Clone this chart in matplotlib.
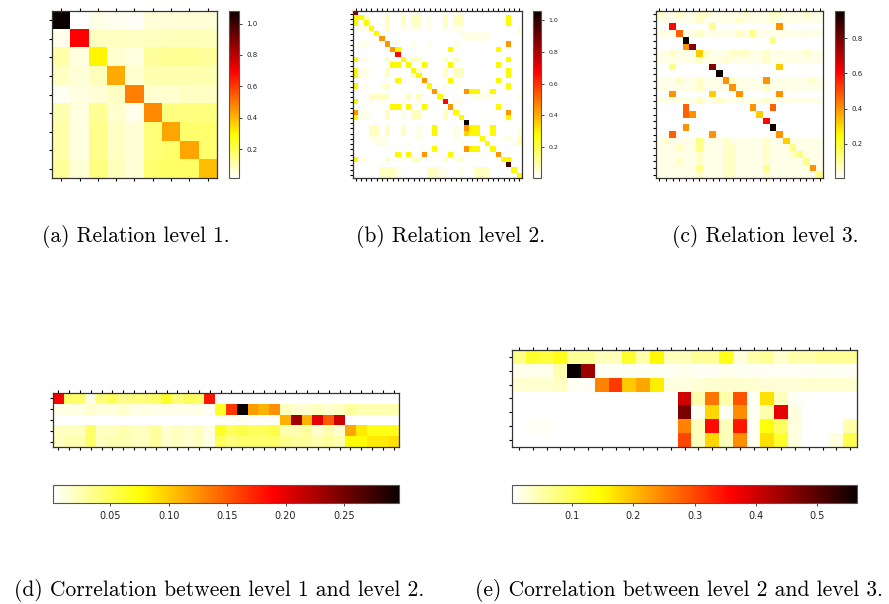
# 关系矩阵与层间相关性热力图（五个子图）
import numpy as np
import matplotlib
matplotlib.use("Agg")
import matplotlib.pyplot as plt

W, H = 889, 604

# (a) 第一层关系矩阵 9x9
rel1 = np.array([
    [1.08, 0.016, 0.045, 0.035, 0.025, 0.06, 0.06, 0.06, 0.06],
    [0.04, 0.69, 0.085, 0.085, 0.08, 0.085, 0.09, 0.09, 0.09],
    [0.11, 0.05, 0.30, 0.07, 0.05, 0.12, 0.13, 0.13, 0.12],
    [0.08, 0.06, 0.09, 0.42, 0.07, 0.10, 0.10, 0.10, 0.10],
    [0.03, 0.05, 0.06, 0.08, 0.49, 0.07, 0.07, 0.08, 0.08],
    [0.10, 0.05, 0.13, 0.07, 0.04, 0.47, 0.15, 0.15, 0.15],
    [0.11, 0.05, 0.14, 0.08, 0.06, 0.16, 0.43, 0.17, 0.17],
    [0.11, 0.05, 0.14, 0.08, 0.06, 0.16, 0.17, 0.43, 0.17],
    [0.12, 0.06, 0.15, 0.09, 0.06, 0.17, 0.18, 0.18, 0.39],
])

# (b) 第二层关系矩阵 32x32，每个字符代表一个颜色等级
rel2_levels = {".": 0.003, "q": 0.03, "p": 0.07, "y": 0.28, "g": 0.34,
               "o": 0.44, "r": 0.66, "d": 0.85, "x": 0.97, "k": 1.06}
rel2_rows = [
    "d.....q. .q.qq... .q.qq... ........",
    "yyp...p. .p.pp.q. .p.pp... .....y..",
    "yqy...p. .p.pp.q. .p.pp... .....y..",
    ".qqy..p. .q.qq.q. .q.qq... .......q",
    "....y... ........ ....qqqq qq.....q",
    ".....o.. ........ .....qqq qq......",
    ".qq...o. ...q..q. ...q.... .....o..",
    ".......o y....... ..y..... ...y....",
    "........ r....... ........ ........",
    "yqq...p. .yqpp... .p.p.... .....y..",
    ".......y y.y..y.. ..y..... ...y....",
    "yqq...p. ...yp... .p.pp... .....y..",
    "yqq...p. ...py... .p.pp... .....y..",
    "........ y....o.. ..y..... ...y....",
    "y.q..qp. ......y. .q.q.... .....y..",
    "........ .......o .....oyy ..y.....",
    "...pppp. ..p.p... y.....qq qqq....q",
    "y..q.q.. .q..q... .r.qq... ........",
    ".......y y.y..y.. ..o..... ...y....",
    "oqq...p. .q.pp... .p.y.... .....o..",
    "yqq...p. .q.pp... .p..y... .....y..",
    "........ ........ .....k.. ........",
    "...pp.p. .p..q..y ...q.oyy ..y....q",
    "...pp.p. .p..q..y ...q.gyy ..y....q",
    "...qqq.. ....q... ...q.... y...qq.p",
    "....qqq. ..q..... ....q... .y....qp",
    "........ .......y .....oyy ..y.....",
    "........ y.y..o.. ..y..... ...o....",
    "yqq...p. .q.pp... .p.qp... ....yy..",
    "........ ........ ........ .....x..",
    ".....ppp q.....pp qq..q..p pp....y.",
    ".....ppp q.....pp qq..q..p pp.....y",
]

# (c) 第三层关系矩阵 25x25
rel3_levels = {".": 0.007, "q": 0.03, "p": 0.06, "l": 0.12, "y": 0.24, "g": 0.32,
               "o": 0.40, "n": 0.47, "r": 0.60, "d": 0.78, "k": 0.953}
rel3_rows = [
    "pqqpq qppqq qqqpq qqppq qqpqq",
    "qqqqq qpqqq qqpqq qqpqq qqqqq",
    "..r.. ...l. ..... ...o. .....",
    "qqqnq qpqqq qqpql qqqqq qqqqq",
    "....k ..... ..... ..l.. .....",
    "....o d.... ..... ..... .....",
    "qqpqq qgpqq qpppq qpqqq qqpqq",
    "qqqqq qpqqq pqqqq qpqqq qqqqq",
    "..l.. ...d. ..... ...g. .....",
    "..... ....k ..... ..... .....",
    "qqqpq qpqqq opqqq qoqqq qqqpq",
    "qqqqq qpqqq qoqqq qpqqq qqqqq",
    "..o.. ...g. ..o.. ...o. .....",
    "qqqqq qpqqp qqqqq qpqqq qqqqq",
    "....n ..... ....o ..n.. .....",
    "....n o.... ..... g.... .....",
    "..... ..... ..... .r... .....",
    "....o ..... ..... ..k.. .....",
    "..n.. ...o. ..... ...o. .....",
    "qpqqq qlqqq pqqqq qpqqg qqqqq",
    "qqqpq qlqqq ppqqq qpqqq lqqqq",
    "qqqqq qpqqq ppqqq qpqqq plqqq",
    "qqqpq qpqqq ppqqq qpqqq qqlqq",
    "qqqqq qlqqq ppqqq qlqqq qqqoq",
    "qqqqq qpqqq ppqqq qpqqq qqqql",
]

# (d) 第一层与第二层的相关性 5x32
corr12 = np.array([
    [0.19, 0.045, 0.045, 0.008, 0.04, 0.05, 0.035, 0.04, 0.04, 0.045, 0.065, 0.04, 0.05, 0.045, 0.18, 0.001,
     0.001, 0.001, 0.001, 0.001, 0.001, 0.001, 0.001, 0.001, 0.001, 0.001, 0.001, 0.001, 0.001, 0.001, 0.001, 0.001],
    [0.008, 0.01, 0.01, 0.015, 0.012, 0.012, 0.015, 0.01, 0.01, 0.008, 0.008, 0.008, 0.008, 0.008, 0.005, 0.065,
     0.165, 0.297, 0.12, 0.11, 0.125, 0.02, 0.015, 0.015, 0.02, 0.015, 0.02, 0.03, 0.025, 0.025, 0.025, 0.025],
    [0.002, 0.002, 0.002, 0.002, 0.002, 0.002, 0.002, 0.002, 0.002, 0.002, 0.002, 0.002, 0.002, 0.002, 0.002, 0.004,
     0.004, 0.006, 0.004, 0.004, 0.004, 0.11, 0.23, 0.11, 0.20, 0.15, 0.21, 0.002, 0.002, 0.002, 0.002, 0.002],
    [0.02, 0.02, 0.02, 0.045, 0.02, 0.02, 0.025, 0.02, 0.02, 0.03, 0.015, 0.02, 0.015, 0.02, 0.01, 0.065,
     0.05, 0.055, 0.05, 0.05, 0.055, 0.025, 0.025, 0.03, 0.015, 0.025, 0.015, 0.115, 0.085, 0.07, 0.07, 0.07],
    [0.02, 0.025, 0.025, 0.045, 0.02, 0.025, 0.025, 0.02, 0.02, 0.03, 0.015, 0.02, 0.015, 0.02, 0.01, 0.05,
     0.04, 0.045, 0.045, 0.045, 0.045, 0.035, 0.03, 0.03, 0.025, 0.03, 0.025, 0.075, 0.075, 0.085, 0.085, 0.09],
])

# (e) 第二层与第三层的相关性 7x25
corr23 = np.array([
    [0.07, 0.12, 0.11, 0.13, 0.06, 0.06, 0.04, 0.04, 0.12, 0.05, 0.15, 0.04, 0.04, 0.06, 0.06, 0.13,
     0.02, 0.05, 0.06, 0.03, 0.05, 0.05, 0.06, 0.06, 0.06],
    [0.015, 0.015, 0.015, 0.05, 0.565, 0.44, 0.01, 0.01, 0.01, 0.01, 0.01, 0.01, 0.015, 0.01, 0.01, 0.015,
     0.01, 0.01, 0.01, 0.01, 0.01, 0.01, 0.01, 0.01, 0.01],
    [0.03, 0.03, 0.03, 0.035, 0.01, 0.01, 0.25, 0.31, 0.19, 0.22, 0.16, 0.02, 0.02, 0.025, 0.03, 0.03,
     0.03, 0.03, 0.025, 0.025, 0.025, 0.03, 0.03, 0.03, 0.03],
    [0.002, 0.002, 0.002, 0.002, 0.002, 0.002, 0.002, 0.002, 0.002, 0.002, 0.002, 0.002, 0.40, 0.05, 0.26, 0.05,
     0.29, 0.01, 0.17, 0.04, 0.01, 0.002, 0.002, 0.002, 0.002],
    [0.002, 0.002, 0.002, 0.002, 0.002, 0.002, 0.002, 0.002, 0.002, 0.002, 0.002, 0.002, 0.47, 0.01, 0.18, 0.01,
     0.24, 0.01, 0.05, 0.38, 0.02, 0.002, 0.002, 0.002, 0.002],
    [0.002, 0.01, 0.01, 0.002, 0.002, 0.002, 0.002, 0.002, 0.002, 0.002, 0.002, 0.002, 0.25, 0.04, 0.35, 0.04,
     0.34, 0.01, 0.14, 0.09, 0.02, 0.002, 0.002, 0.002, 0.05],
    [0.002, 0.002, 0.002, 0.002, 0.002, 0.002, 0.002, 0.002, 0.002, 0.002, 0.002, 0.002, 0.30, 0.04, 0.18, 0.04,
     0.24, 0.01, 0.17, 0.12, 0.02, 0.002, 0.002, 0.02, 0.10],
])

captions = ["(a) Relation level 1.", "(b) Relation level 2.", "(c) Relation level 3.",
            "(d) Correlation between level 1 and level 2.",
            "(e) Correlation between level 2 and level 3."]


def decode(rows, levels):
    # 把字符串还原成数值矩阵
    return np.array([[levels[c] for c in r.replace(" ", "")] for r in rows])


rel2 = decode(rel2_rows, rel2_levels)
rel3 = decode(rel3_rows, rel3_levels)

fig = plt.figure(figsize=(W / 100, H / 100), dpi=100)


def px_axes(x0, y0, x1, y1):
    # 用像素坐标放置坐标轴
    return fig.add_axes([x0 / W, 1 - y1 / H, (x1 - x0) / W, (y1 - y0) / H])


def draw_heat(box, data):
    ax = px_axes(*box)
    im = ax.imshow(data, cmap="hot_r", aspect="auto", interpolation="nearest")
    ax.set_xticks(np.arange(data.shape[1]))
    ax.set_yticks(np.arange(data.shape[0]))
    ax.tick_params(top=True, bottom=True, left=True, right=False,
                   labelbottom=False, labelleft=False, labeltop=False,
                   direction="out", length=2.5, width=0.8)
    for s in ax.spines.values():
        s.set_color("#333333")
        s.set_linewidth(0.9)
    return im


def draw_cbar(im, box, ticks, orient, size):
    cax = px_axes(*box)
    cb = fig.colorbar(im, cax=cax, orientation=orient, ticks=ticks)
    cb.ax.tick_params(labelsize=size, length=2, width=0.6, colors="#222222")
    cb.outline.set_edgecolor("#555555")
    cb.outline.set_linewidth(0.8)
    return cb


im_a = draw_heat((52, 11, 217, 178), rel1)
draw_cbar(im_a, (229, 11, 239, 178), [0.2, 0.4, 0.6, 0.8, 1.0], "vertical", 5)

im_b = draw_heat((353, 11, 522, 178), rel2)
draw_cbar(im_b, (533, 11, 541, 178), [0.2, 0.4, 0.6, 0.8, 1.0], "vertical", 4.5)

im_c = draw_heat((656, 11, 823, 178), rel3)
draw_cbar(im_c, (835, 11, 844, 178), [0.2, 0.4, 0.6, 0.8], "vertical", 5)

im_d = draw_heat((53, 393, 399, 447), corr12)
draw_cbar(im_d, (53, 485, 399, 503), [0.05, 0.10, 0.15, 0.20, 0.25], "horizontal", 7)

im_e = draw_heat((512, 350, 857, 447), corr23)
draw_cbar(im_e, (512, 485, 857, 503), [0.1, 0.2, 0.3, 0.4, 0.5], "horizontal", 7)

# 子图标题
cap_pos = [(136, 236), (451, 236), (765, 236), (219, 590), (679, 590)]
for text, (x, y) in zip(captions, cap_pos):
    fig.text(x / W, 1 - y / H, text, ha="center", va="center",
             fontsize=15.5, family="cmr10")

fig.savefig("out.png", dpi=100)
